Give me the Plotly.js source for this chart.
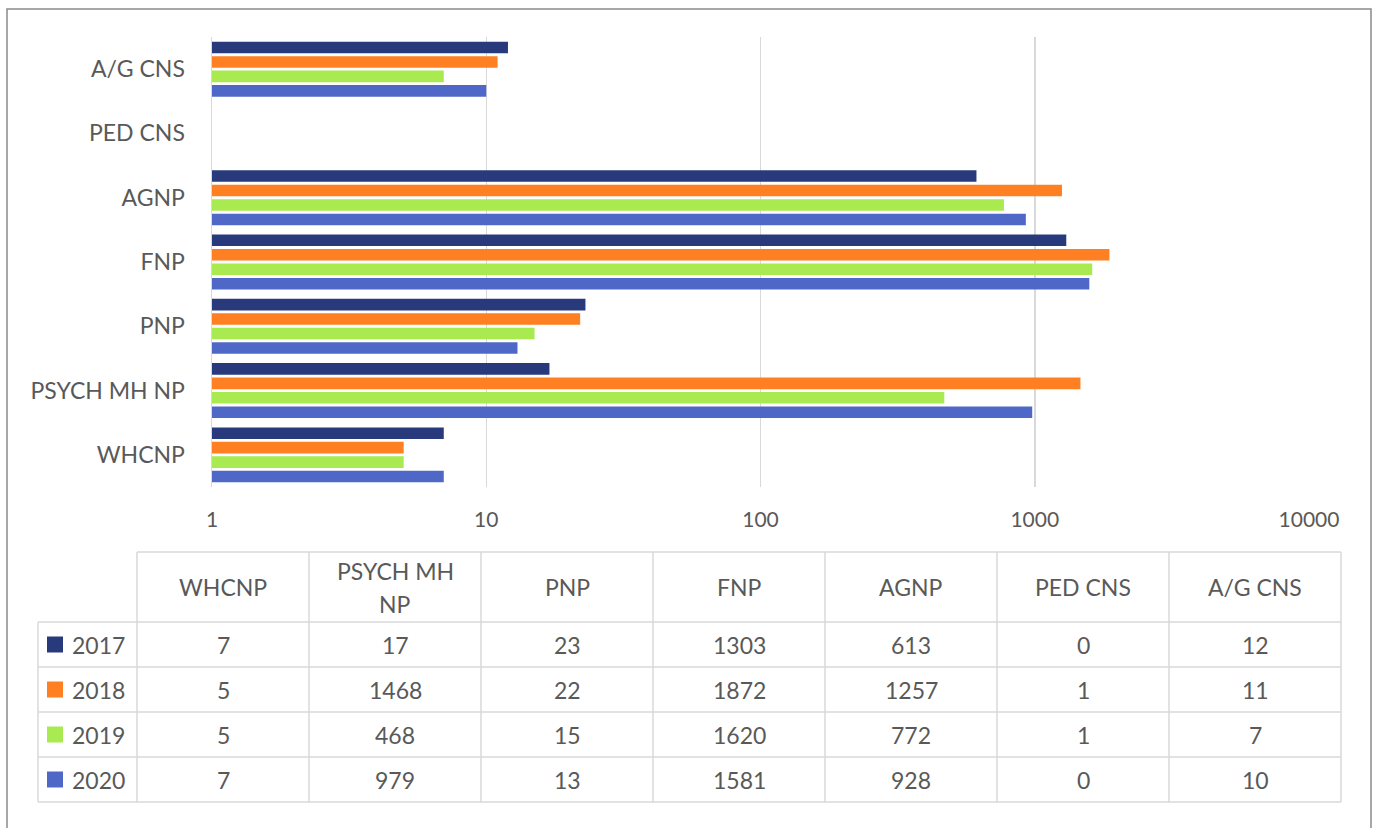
<!DOCTYPE html>
<html><head><meta charset="utf-8">
<script src="https://cdn.plot.ly/plotly-3.0.1.min.js"></script>
<style>html,body{margin:0;padding:0;background:#fff}#chart{width:1374px;height:828px}</style>
</head><body><div id="chart"></div>
<script>
const categories = ['WHCNP','PSYCH MH NP','PNP','FNP','AGNP','PED CNS','A/G CNS'];
const headerLabels = ['WHCNP','PSYCH MH<br>NP','PNP','FNP','AGNP','PED CNS','A/G CNS'];
const years = ['2017','2018','2019','2020'];
const values2017 = [7,17,23,1303,613,0,12];
const values2018 = [5,1468,22,1872,1257,1,11];
const values2019 = [5,468,15,1620,772,1,7];
const values2020 = [7,979,13,1581,928,0,10];
const tickVals = [1,10,100,1000,10000];
const tickLabels = ['1','10','100','1000','10000'];
const colors = ['#283A7C','#FF8022','#A8EA50','#4F68C8'];

const series = [values2017, values2018, values2019, values2020];
const W = 1374, H = 828;
const plotL = 212, plotR = 1309, plotT = 37, plotB = 487;
const FONT = 'Lato, "Open Sans", sans-serif';
const TXT = '#595959';
const GRID = '#D9D9D9';
function px(x){ return (x - plotL) / (plotR - plotL); }
function py(y){ return (plotB - y) / (plotB - plotT); }

// traces: plotly puts first trace at bottom of each group, so add 2020 first
const traces = [];
for (let i = years.length - 1; i >= 0; i--) {
  traces.push({
    type: 'bar', orientation: 'h', name: years[i],
    y: categories, x: series[i],
    marker: {color: colors[i], line: {width: 0}},
    hoverinfo: 'x+y+name'
  });
}

// table geometry
const tblLeft = 38, colStart = 137, colW = 172;
const hdrTop = 552, hdrBot = 622, rowH = 45, hdrLineGap = 33;
const tblRight = colStart + colW * categories.length;
const tblBot = hdrBot + rowH * years.length;
const shapes = [];
const annotations = [];
const lineStyle = {color: GRID, width: 1.5};
function hline(y, x0, x1){ shapes.push({type:'line', xref:'paper', yref:'paper', x0:px(x0), x1:px(x1), y0:py(y), y1:py(y), line:lineStyle}); }
function vline(x, y0, y1){ shapes.push({type:'line', xref:'paper', yref:'paper', x0:px(x), x1:px(x), y0:py(y0), y1:py(y1), line:lineStyle}); }
hline(hdrTop, colStart, tblRight);
for (let r = 0; r <= years.length; r++) hline(hdrBot + r * rowH, tblLeft, tblRight);
vline(tblLeft, hdrBot, tblBot);
for (let c = 0; c <= categories.length; c++) vline(colStart + c * colW, hdrTop, tblBot);

const fnt = {family: FONT, size: 23, color: TXT};
function label(x, y, text, anchor){
  annotations.push({xref:'paper', yref:'paper', x:px(x), y:py(y), text: text, showarrow:false, xanchor: anchor || 'center', yanchor:'middle', font: fnt});
}
for (let c = 0; c < categories.length; c++) {
  const cx = colStart + colW * (c + 0.5);
  const lines = headerLabels[c].split('<br>');
  const mid = (hdrTop + hdrBot) / 2;
  lines.forEach((t, k) => label(cx, mid + (k - (lines.length - 1) / 2) * hdrLineGap, t));
  for (let r = 0; r < years.length; r++) {
    label(cx, hdrBot + rowH * (r + 0.5), String(series[r][c]));
  }
}
for (let r = 0; r < years.length; r++) {
  const cy = hdrBot + rowH * (r + 0.5);
  shapes.push({type:'rect', xref:'paper', yref:'paper', x0:px(47), x1:px(63), y0:py(cy - 8), y1:py(cy + 8), fillcolor: colors[r], line:{width:0}});
  label(70, cy, years[r], 'left');
}
// outer frame
shapes.push({type:'rect', xref:'paper', yref:'paper', x0:px(7), x1:px(1371), y0:py(9), y1:py(850), line:{color:'#8A8A8A', width:1.5}, fillcolor:'rgba(0,0,0,0)'});

const layout = {
  width: W, height: H,
  margin: {l: plotL, r: W - plotR, t: plotT, b: H - plotB},
  paper_bgcolor: '#fff', plot_bgcolor: '#fff',
  showlegend: false,
  barmode: 'group', bargap: 0.1, bargroupgap: 0.2,
  font: {family: FONT, color: TXT},
  xaxis: {type: 'log', range: [0, 4], tickvals: tickVals, ticktext: tickLabels,
    showgrid: true, gridcolor: GRID, gridwidth: 1.5, zeroline: false, showline: false,
    ticks: '', ticklabelstandoff: 18, tickfont: {family: FONT, size: 21, color: TXT}, fixedrange: true},
  yaxis: {type: 'category', categoryorder: 'array', categoryarray: categories,
    showgrid: false, zeroline: false, showline: true, linecolor: GRID, linewidth: 1.5,
    ticks: '', ticklabelstandoff: 21, tickfont: {family: FONT, size: 23, color: TXT}, fixedrange: true},
  shapes: shapes, annotations: annotations
};
Plotly.newPlot('chart', traces, layout, {displayModeBar: false, staticPlot: true});
</script></body></html>
